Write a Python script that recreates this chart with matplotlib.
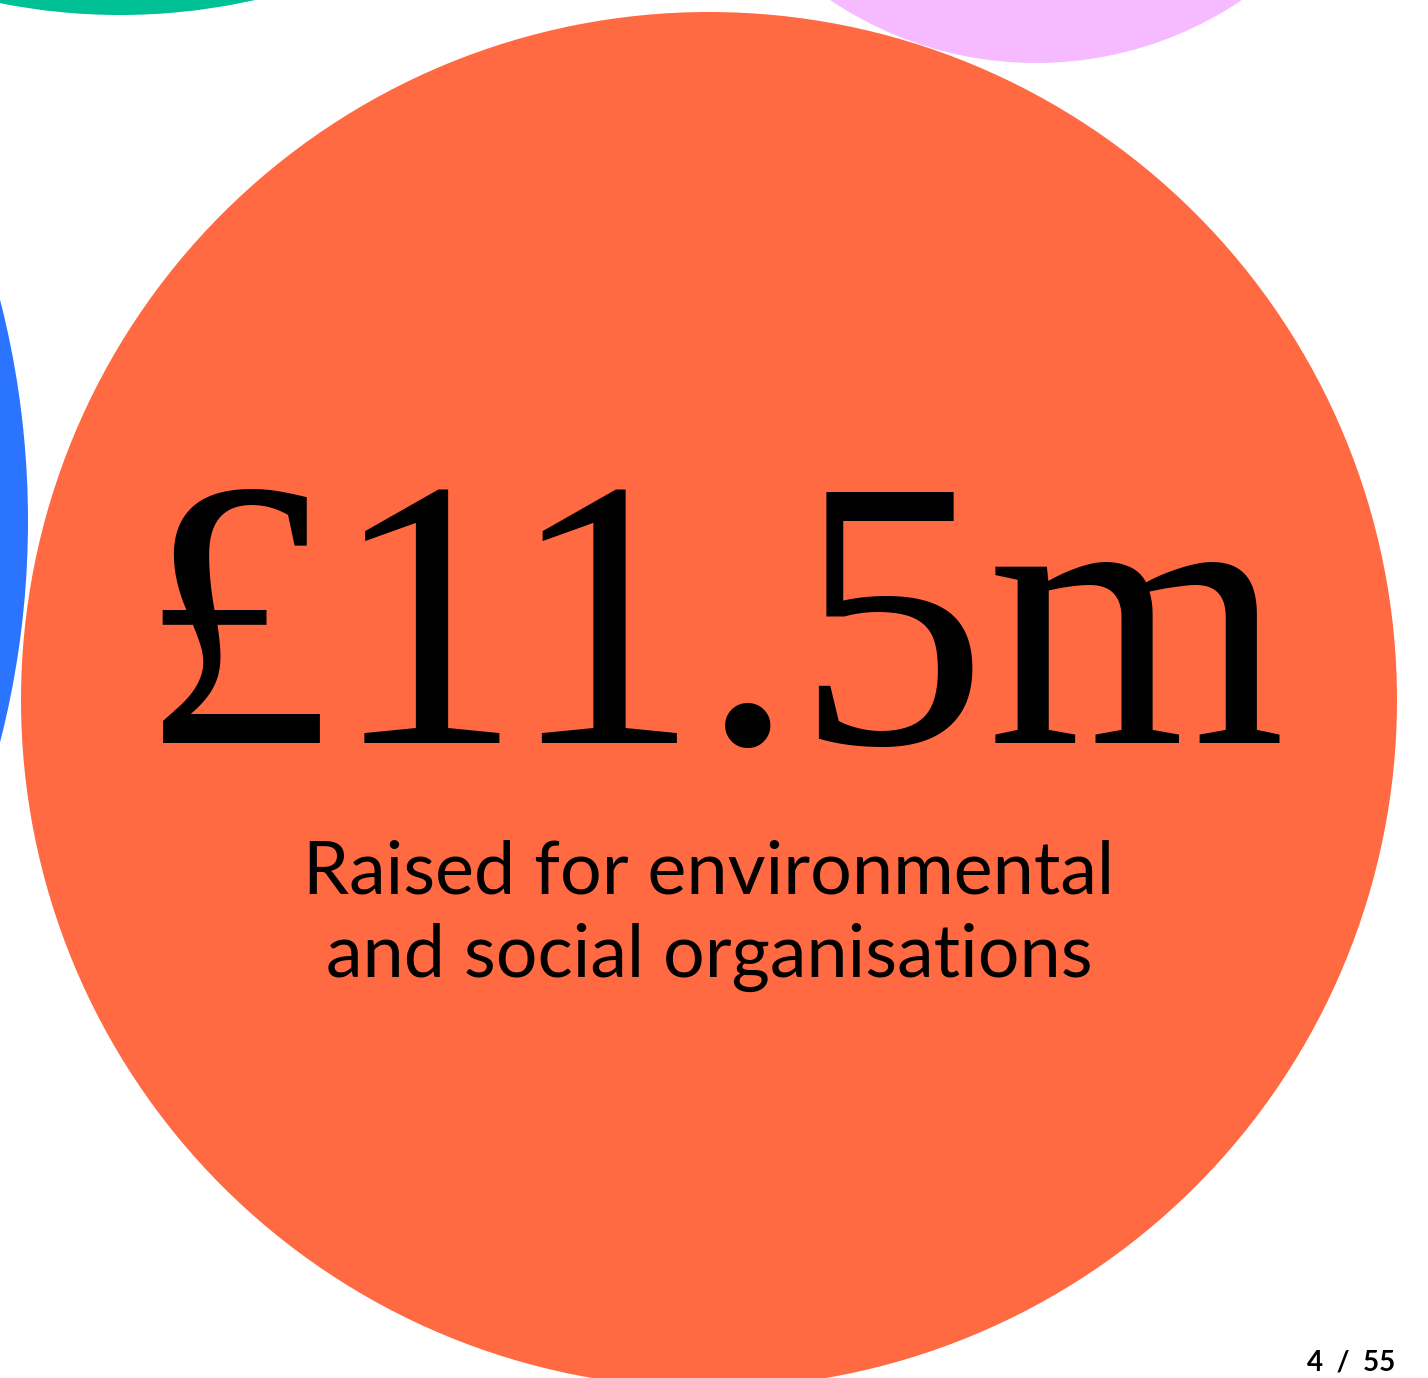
import matplotlib.pyplot as plt
from matplotlib.patches import Circle

# circles in pixel space: (x, y, radius, colour), y counted from the top
circle_x = [709, 120, 1036, -862]
circle_y = [700, -600, -305, 521]
circle_r = [688, 615, 368, 890]
circle_colors = ['#FF6A42', '#00C096', '#F5BAFF', '#2A74FF']

headline = '£11.5m'
subtitle = ['Raised for environmental', 'and social organisations']
page_label = '4  /  55'

W, H = 1428, 1378
fig = plt.figure(figsize=(W / 100, H / 100), dpi=100)
ax = fig.add_axes([0, 0, 1, 1])
ax.set_xlim(0, W)
ax.set_ylim(H, 0)
ax.set_aspect('equal')
ax.axis('off')

# draw the small ones first, the big orange one on top
for i in [1, 2, 3, 0]:
    ax.add_patch(Circle((circle_x[i], circle_y[i]), circle_r[i],
                        color=circle_colors[i], lw=0))

ax.text(713, 743, headline, family='Liberation Serif', fontsize=276,
        ha='center', va='baseline', color='black')

for k, line in enumerate(subtitle):
    ax.text(709, 893 + 84 * k, line, family='Lato', fontsize=53,
            fontweight='normal', ha='center', va='baseline', color='black')

ax.text(1395, 1371, page_label, family='Lato', fontsize=20,
        fontweight='bold', ha='right', va='baseline', color='black')

fig.savefig('out.png', dpi=100)
